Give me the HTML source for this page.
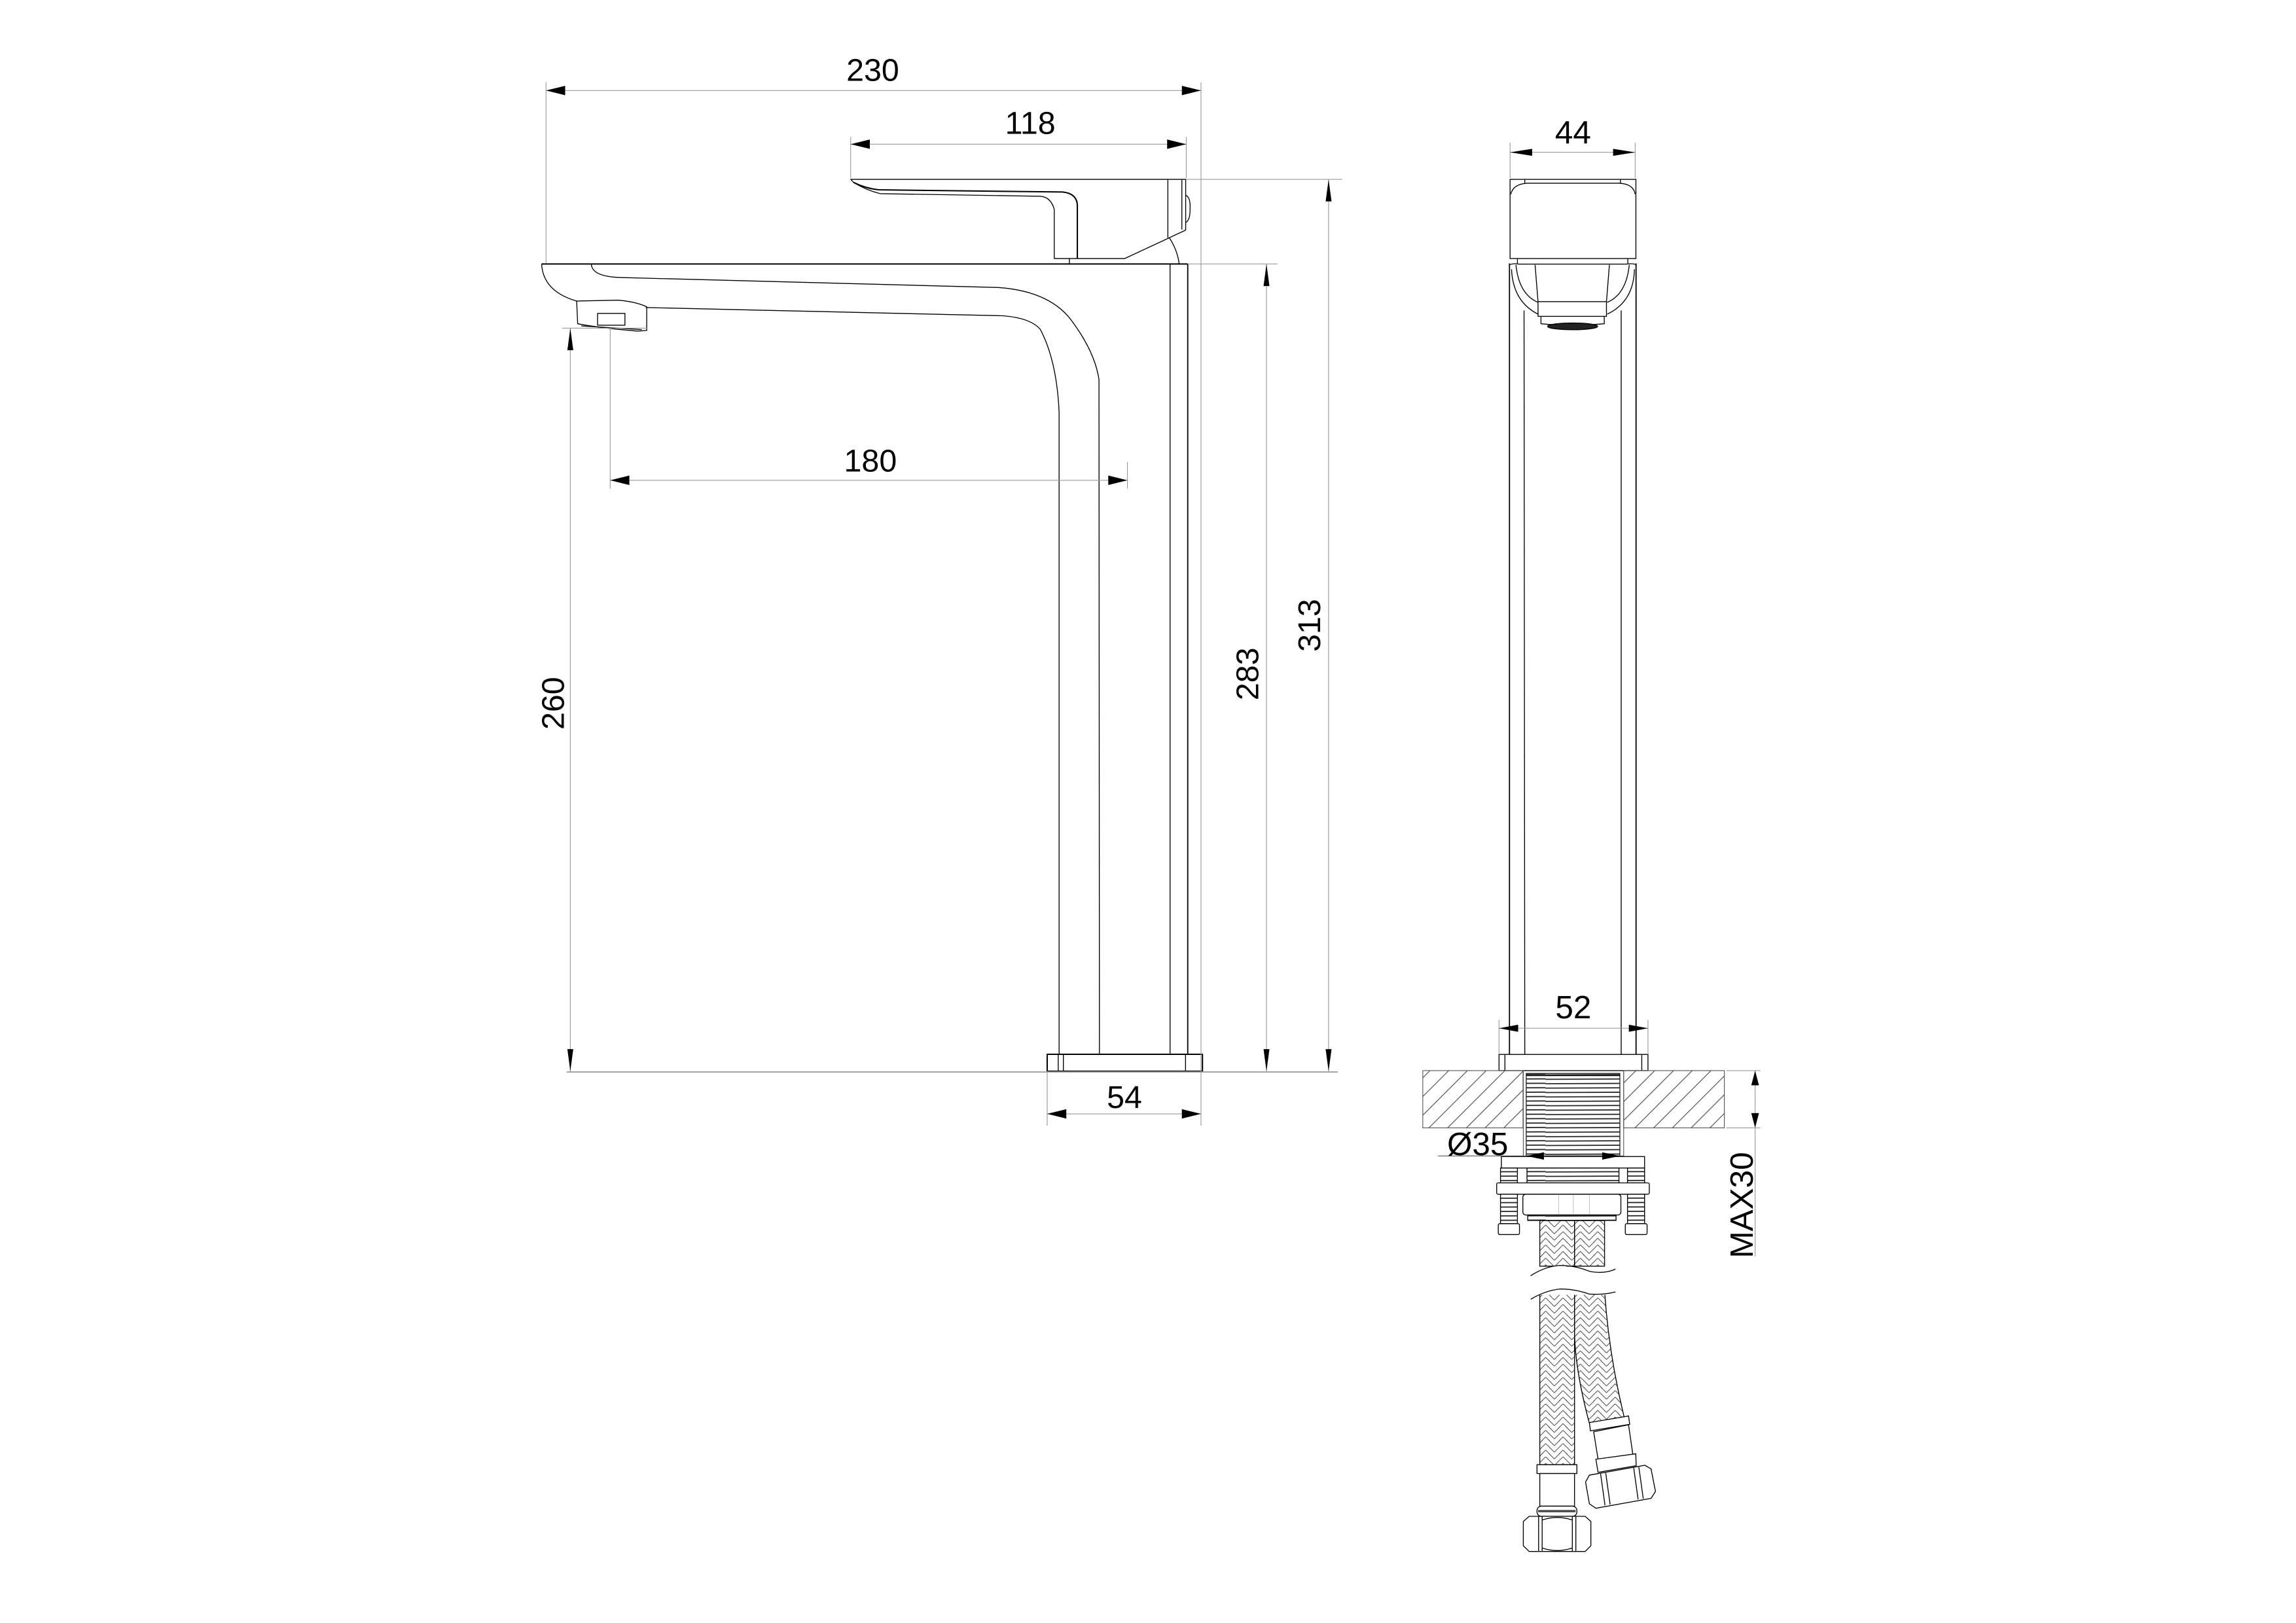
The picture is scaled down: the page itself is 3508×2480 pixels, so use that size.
<!DOCTYPE html>
<html><head><meta charset="utf-8"><style>
html,body{margin:0;padding:0;background:#fff;}
svg{display:block;}
text{font-family:"Liberation Sans",sans-serif;fill:#000;}
</style></head><body>
<svg width="3508" height="2480" viewBox="0 0 1560 1103" preserveAspectRatio="none" xmlns="http://www.w3.org/2000/svg">
<defs>
<pattern id="hatch" patternUnits="userSpaceOnUse" width="9" height="9" patternTransform="rotate(45 0 0)">
<line x1="4.5" y1="0" x2="4.5" y2="9" stroke="#333" stroke-width="0.45"/>
</pattern>
<pattern id="braid" patternUnits="userSpaceOnUse" width="11.8" height="9">
<path d="M0 0 L5.9 5.9 M5.9 5.9 L11.8 0 M0 4.5 L2.9 7.4 M11.8 4.5 L8.9 7.4 M5.9 1.5 L2 -2.4 M5.9 1.5 L9.8 -2.4 M5.9 10.5 L2 6.6 M5.9 10.5 L9.8 6.6" stroke="#333" stroke-width="0.4" fill="none"/>
</pattern>
<pattern id="thread" patternUnits="userSpaceOnUse" width="70" height="3">
<line x1="0" y1="1.5" x2="70" y2="1.2" stroke="#222" stroke-width="0.8"/>
</pattern>
</defs>

<!-- ============ FRONT VIEW ============ -->
<g fill="none" stroke="#000" stroke-width="0.6" stroke-linejoin="round">
<path d="M578 121.9 L805.6 121.9 L805.6 156.4 L764.2 175.7 L716.3 175.7 L716.3 142.3 Q714 134 707 133.4 L598 131.6 Q588 129 580 124 Z"/>
<path d="M580 124 Q588 128 597 129 L721.9 130.5 Q732 131.5 732 140 L732 175.7" stroke-width="0.9"/>
<line x1="793.5" y1="121.9" x2="793.5" y2="161.6"/>
<line x1="803" y1="121.9" x2="803" y2="156"/>
<path d="M805.6 132.7 Q809 134 808.6 142 Q808.6 150 805.6 151.2"/>
<path d="M794.5 161.6 Q800 170 801.2 179.4"/>
<line x1="726.6" y1="175.7" x2="726.6" y2="179.4"/>
<line x1="368" y1="179.4" x2="807" y2="179.4" stroke-width="0.9"/>
<path d="M368 179.4 Q369 198 391.8 204.6"/>
<path d="M401.8 179.4 Q402 188 421.7 188.6 L678.3 195.4 Q715 198 729.6 220 Q744 240 746.7 257.9 L747 716.5"/>
<path d="M438.8 209 L681.2 214.6 Q700 216 706.8 223.8 Q718 245 719.6 280 L719.6 716.5"/>
<path d="M391.8 204.6 L392.5 220 Q408 223 433 225 L439.4 224.6 L439.4 208.5 Q432 205 420 204 Z"/>
<rect x="406" y="213" width="18.6" height="8"/>
<line x1="395" y1="221.5" x2="436" y2="224"/>
<line x1="795" y1="179.4" x2="795" y2="716.5"/>
<line x1="807" y1="179.4" x2="807" y2="716.5" stroke-width="0.8"/>
<rect x="711.5" y="716.5" width="105.5" height="11.5" stroke-width="0.9"/>
<line x1="719" y1="716.5" x2="719" y2="728"/>
<line x1="722.5" y1="716.5" x2="722.5" y2="728"/>
<line x1="805.5" y1="716.5" x2="805.5" y2="728"/>
</g>

<g stroke="#999" stroke-width="0.5" fill="none">
<line x1="371" y1="56" x2="371" y2="179"/>
<line x1="816" y1="56" x2="816" y2="765"/>
<line x1="371" y1="61.5" x2="816" y2="61.5"/>
<line x1="578" y1="93" x2="578" y2="121"/>
<line x1="806" y1="93" x2="806" y2="121"/>
<line x1="578" y1="98" x2="806" y2="98"/>
<line x1="806" y1="121.9" x2="912" y2="121.9"/>
<line x1="807" y1="179.4" x2="868" y2="179.4"/>
<line x1="382" y1="223" x2="440" y2="223"/>
<line x1="414.6" y1="223" x2="414.6" y2="332"/>
<line x1="766" y1="314" x2="766" y2="332"/>
<line x1="414.6" y1="326.4" x2="766" y2="326.4"/>
<line x1="387.5" y1="223" x2="387.5" y2="728"/>
<line x1="860.5" y1="179.4" x2="860.5" y2="728"/>
<line x1="902.7" y1="121.9" x2="902.7" y2="728"/>
<line x1="385" y1="728.5" x2="909" y2="728.5" stroke-width="0.8"/>
<line x1="711.5" y1="728" x2="711.5" y2="765"/>
<line x1="711.5" y1="757" x2="816" y2="757"/>
</g>
<g fill="#000">
<path d="M371 61.5 l13 -3.2 v6.4z"/><path d="M816 61.5 l-13 -3.2 v6.4z"/>
<path d="M578 98 l13 -3.2 v6.4z"/><path d="M806 98 l-13 -3.2 v6.4z"/>
<path d="M414.6 326.4 l13 -3.2 v6.4z"/><path d="M766 326.4 l-13 -3.2 v6.4z"/>
<path d="M711.5 757 l13 -3.2 v6.4z"/><path d="M816 757 l-13 -3.2 v6.4z"/>
<path d="M387.5 223 l-2 15 h4z"/><path d="M387.5 728 l-2 -15 h4z"/>
<path d="M860.5 179.4 l-2 15 h4z"/><path d="M860.5 728 l-2 -15 h4z"/>
<path d="M902.7 121.9 l-2 15 h4z"/><path d="M902.7 728 l-2 -15 h4z"/>
</g>
<g font-size="21.5" text-anchor="middle">
<text x="593" y="55">230</text>
<text x="700" y="91">118</text>
<text x="591.4" y="320.5">180</text>
<text x="764" y="753">54</text>
<text transform="translate(383 478) rotate(-90)">260</text>
<text transform="translate(855 458) rotate(-90)">283</text>
<text transform="translate(897 425) rotate(-90)">313</text>
</g>

<!-- ============ SIDE VIEW ============ -->
<g fill="none" stroke="#000" stroke-width="0.6">
<rect x="1026" y="121.9" width="85.5" height="53.8"/>
<path d="M1026.5 132 Q1028 125 1038 124.5 L1100 124.5 Q1110 125 1111 132"/>
<line x1="1036" y1="121.9" x2="1036" y2="124.5"/><line x1="1101" y1="121.9" x2="1101" y2="124.5"/>
<line x1="1031" y1="175.7" x2="1031" y2="179"/><line x1="1106" y1="175.7" x2="1106" y2="179"/>
<line x1="1025.6" y1="179" x2="1025.6" y2="716.6" stroke-width="0.8"/>
<line x1="1111.6" y1="179" x2="1111.6" y2="716.6" stroke-width="0.8"/>
<line x1="1035.5" y1="211" x2="1036" y2="716.6"/>
<line x1="1101.5" y1="211" x2="1101.5" y2="716.6"/>
<path d="M1025.6 180 Q1028 178.8 1032 179.5 L1105 179.5 Q1110 178.8 1111.6 180"/>
<path d="M1027 183 Q1028 205 1045 213.5"/>
<path d="M1110.5 183 Q1110 205 1092 213.5"/>
<path d="M1030 180 Q1032 200 1045 205.5"/>
<path d="M1107 180 Q1105 200 1092 205.5"/>
<line x1="1043" y1="180" x2="1045" y2="205"/><line x1="1093.5" y1="180" x2="1091.5" y2="205"/>
<rect x="1045" y="205" width="46.5" height="10"/>
<path d="M1047 215 L1047 220 Q1068 222 1090 220 L1090 215"/>
<ellipse cx="1068.5" cy="221.8" rx="17" ry="2.3" fill="#222"/>
<rect x="1018.5" y="716.6" width="101.2" height="11"/>
<line x1="1022.5" y1="716.6" x2="1022.5" y2="727.6"/>
<line x1="1115.5" y1="716.6" x2="1115.5" y2="727.6"/>
</g>
<rect x="966.7" y="727.6" width="68.1" height="38.9" fill="url(#hatch)" stroke="#555" stroke-width="0.5"/>
<rect x="1103.2" y="727.6" width="68.4" height="38.9" fill="url(#hatch)" stroke="#555" stroke-width="0.5"/>
<line x1="1035" y1="727.6" x2="1035" y2="787" stroke="#555" stroke-width="0.5"/>
<line x1="1103.2" y1="727.6" x2="1103.2" y2="787" stroke="#555" stroke-width="0.5"/>
<rect x="1037" y="729.5" width="63.6" height="56" fill="url(#thread)" stroke="#222" stroke-width="0.6"/>
<line x1="1037" y1="731" x2="1100.6" y2="731" stroke="#000" stroke-width="0.6"/>
<g fill="#fff" stroke="#000" stroke-width="0.6">
<rect x="1020.1" y="786" width="97.3" height="7.8"/>
<rect x="1037.5" y="793.8" width="62.5" height="10.1" fill="url(#thread)"/>
<rect x="1019.5" y="793.8" width="11.5" height="10.1" fill="url(#thread)"/>
<rect x="1105.8" y="793.8" width="11.6" height="10.1" fill="url(#thread)"/>
<rect x="1016.9" y="803.9" width="103.7" height="7.7" rx="1"/>
<rect x="1034.7" y="811.6" width="66.6" height="14.1" rx="2"/>
<rect x="1038" y="825.7" width="60" height="3.7" fill="url(#thread)"/>
<rect x="1019.5" y="811.6" width="11.5" height="20" fill="url(#thread)"/>
<rect x="1105.8" y="811.6" width="11.6" height="20" fill="url(#thread)"/>
<rect x="1018" y="831.6" width="14.4" height="7.4" rx="1"/>
<rect x="1104.3" y="831.6" width="14.8" height="7.4" rx="1"/>
</g>
<g stroke="#bbb" stroke-width="0.4"><line x1="1059" y1="812" x2="1059" y2="825"/><line x1="1069" y1="812" x2="1069" y2="825"/><line x1="1080" y1="812" x2="1080" y2="825"/></g>
<line x1="977" y1="785.6" x2="1103" y2="785.6" stroke="#555" stroke-width="0.5"/>
<path d="M1037 785.6 l12 -2.5 v5z" fill="#000"/><path d="M1100.6 785.6 l-12 -2.5 v5z" fill="#000"/>
<g stroke="#000" stroke-width="0.6">
<rect x="1046.2" y="829.5" width="23.6" height="31" fill="url(#braid)"/>
<rect x="1069.8" y="829.5" width="20.4" height="31" fill="url(#braid)"/>
<path d="M1046.2 877 L1069.8 877 L1069.8 995.4 L1046.2 995.4 Z" fill="url(#braid)"/>
<path d="M1069.8 877 L1090.2 877 Q1093 920 1103.5 963 L1079.8 967 Q1070 930 1069.8 905 Z" fill="url(#braid)"/>
</g>
<path d="M1040 868 Q1050 860 1062 860 Q1075 864 1085 865.5 Q1092 865 1097.6 862.5 L1097.6 868 L1040 868 Z" fill="#fff" stroke="none"/>
<path d="M1040 864 L1097.6 864 L1097.6 880 L1040 880 Z" fill="#fff" stroke="none"/>
<path d="M1040 867 Q1050 860.5 1060 860 Q1070 860 1080 864 Q1090 866 1097.6 862.5" fill="none" stroke="#000" stroke-width="0.6"/>
<path d="M1040 883 Q1050 877 1060 876 Q1070 876 1080 879.5 Q1090 880 1097.6 878" fill="none" stroke="#000" stroke-width="0.6"/>
<g fill="#fff" stroke="#000" stroke-width="0.6">
<rect x="1044.3" y="995.4" width="27.1" height="6"/>
<rect x="1046.2" y="1001.4" width="23.6" height="22.2"/>
<rect x="1044.3" y="1023.6" width="27.1" height="6.9" rx="3"/>
<line x1="1045" y1="1027" x2="1070.5" y2="1027" stroke-width="1.5" stroke="#444"/>
<path d="M1035 1034 L1039 1030.5 L1077 1030.5 L1080.9 1034 L1080.9 1050.5 L1077 1054.4 L1039 1054.4 L1035 1050.5 Z"/>
<line x1="1045.4" y1="1030.5" x2="1045.4" y2="1054.4"/><line x1="1047.8" y1="1030.5" x2="1047.8" y2="1054.4"/>
<line x1="1068.3" y1="1030.5" x2="1068.3" y2="1054.4"/><line x1="1070.7" y1="1030.5" x2="1070.7" y2="1054.4"/>
<path d="M1047.8 1033 Q1058 1029.5 1068.3 1033 M1047.8 1052 Q1058 1055.5 1068.3 1052" fill="none"/>
<path d="M1079.9 966.8 L1106.5 962.3 L1107.3 968 L1080.6 972.4 Z"/>
<path d="M1082.8 973 L1106.5 968.3 L1109.5 989 L1086 993 Z"/>
<path d="M1084.3 991.7 L1111.4 988 L1111.7 996.1 L1085.8 1000.6 Z"/>
<path d="M1077.3 1007.2 L1079.9 1002.5 L1117.6 995.8 L1121.8 998.3 L1124.8 1013.6 L1121.8 1018.3 L1084.3 1025 L1079.9 1022 Z"/>
<line x1="1087.5" y1="1001.5" x2="1090.5" y2="1023"/><line x1="1091" y1="1001" x2="1094" y2="1022.5"/>
<line x1="1110" y1="997.5" x2="1113" y2="1019"/><line x1="1113.5" y1="997" x2="1116.5" y2="1018.5"/>
</g>
<g stroke="#999" stroke-width="0.5" fill="none">
<line x1="1026" y1="97" x2="1026" y2="121"/><line x1="1111" y1="97" x2="1111" y2="121"/>
<line x1="1026" y1="103.5" x2="1111" y2="103.5"/>
<line x1="1018.5" y1="693" x2="1018.5" y2="716"/><line x1="1119.7" y1="693" x2="1119.7" y2="716"/>
<line x1="1018.5" y1="698.8" x2="1119.7" y2="698.8"/>
<line x1="1173" y1="727.6" x2="1196" y2="727.6"/><line x1="1173" y1="766.5" x2="1196" y2="766.5"/>
<line x1="1192.5" y1="727.6" x2="1192.5" y2="854"/>
</g>
<g fill="#000">
<path d="M1026 103.5 l15 -2.4 v4.8z"/><path d="M1111 103.5 l-15 -2.4 v4.8z"/>
<path d="M1018.5 698.8 l13 -2.4 v4.8z"/><path d="M1119.7 698.8 l-13 -2.4 v4.8z"/>
<path d="M1192.5 727.6 l-2.6 10 h5.2z"/><path d="M1192.5 766.5 l-2.6 -10 h5.2z"/>
</g>
<g font-size="22" text-anchor="middle">
<text x="1068.8" y="97.4">44</text>
<text x="1069" y="692">52</text>
<text x="1004" y="785">Ø35</text>
<text transform="translate(1191 819) rotate(-90)">MAX30</text>
</g>
</svg>
</body></html>
